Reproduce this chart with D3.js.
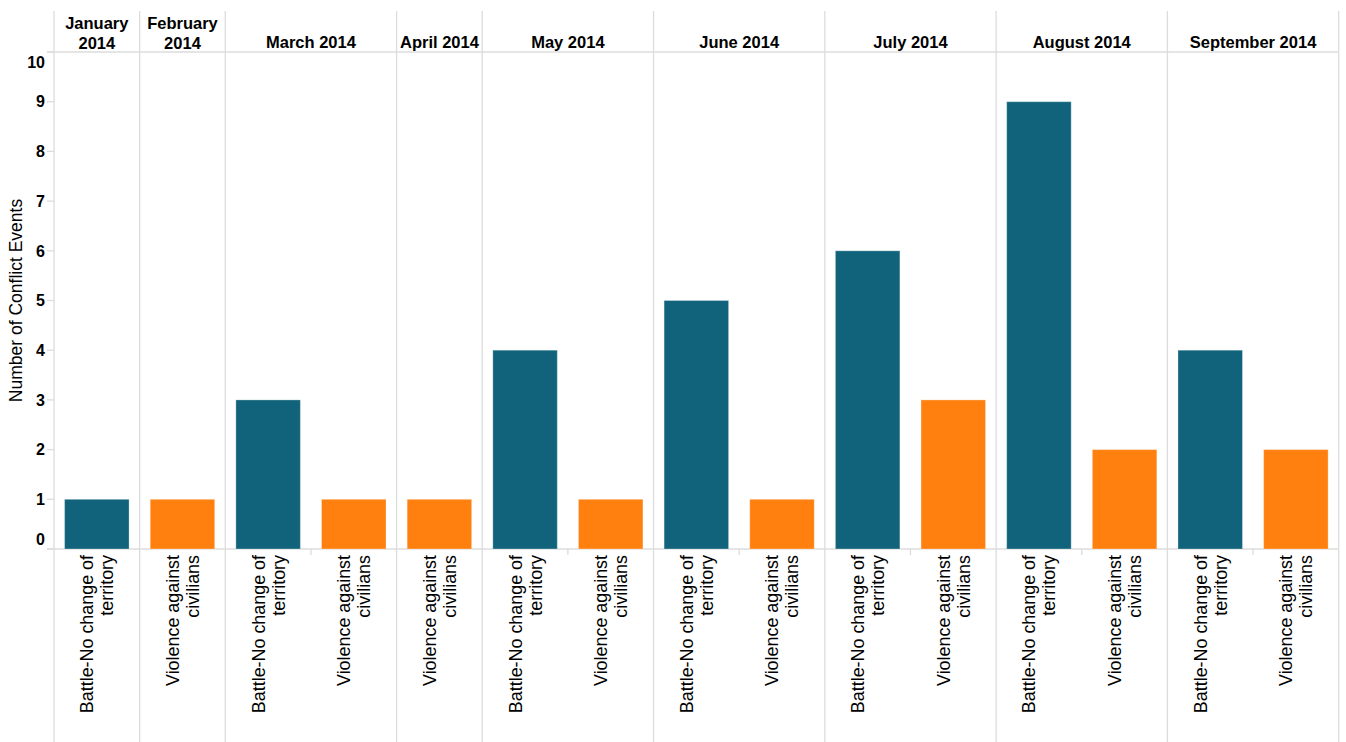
<!DOCTYPE html>
<html>
<head>
<meta charset="utf-8">
<script src="https://cdn.jsdelivr.net/npm/d3@7"></script>
<style>
  body { margin: 0; background: #fff; }
  text { font-family: "Liberation Sans", Arial, sans-serif; fill: #000; }
</style>
</head>
<body>
<script>
// values (number of conflict events per month and type)
const months = ["January 2014", "February 2014", "March 2014", "April 2014", "May 2014",
  "June 2014", "July 2014", "August 2014", "September 2014"];
const eventTypes = ["Battle-No change of territory", "Violence against civilians"];
const battleCounts = [1, null, 3, null, 4, 5, 6, 9, 4];
const violenceCounts = [null, 1, 1, 1, 1, 1, 3, 2, 2];
const yTicks = [0, 1, 2, 3, 4, 5, 6, 7, 8, 9, 10];
const typeLabelLines = {
  "Battle-No change of territory": ["Battle-No change of", "territory"],
  "Violence against civilians": ["Violence against", "civilians"]
};
const colors = { "Battle-No change of territory": "#10637a", "Violence against civilians": "#ff800e" };

const W = 1346, H = 742;
const plotLeft = 54, plotRight = 1338.7, plotTop = 52, base = 549, headTop = 11;

// build one row per bar that exists
const rows = [];
months.forEach((m, i) => {
  if (battleCounts[i] != null) rows.push({ month: m, type: eventTypes[0], value: battleCounts[i] });
  if (violenceCounts[i] != null) rows.push({ month: m, type: eventTypes[1], value: violenceCounts[i] });
});
rows.forEach(d => d.key = d.month + "|" + d.type);

const x = d3.scaleBand()
  .domain(rows.map(d => d.key))
  .range([plotLeft, plotRight])
  .paddingInner(0.247)
  .paddingOuter(0.1235);

const y = d3.scaleLinear().domain([0, 10]).range([base, plotTop]);

const svg = d3.select("body").append("svg")
  .attr("width", W).attr("height", H);

const gridColor = "#dcdcdc";

// panels per month
const panels = months.map(m => {
  const keys = rows.filter(d => d.month === m).map(d => d.key);
  const x0 = x(keys[0]) - x.step() * x.paddingInner() / 2;
  return { month: m, x0: x0, x1: x0 + keys.length * x.step(), keys: keys };
});

// vertical panel borders
const borders = [plotLeft].concat(panels.map(p => p.x1));
svg.selectAll(".vline").data(borders).enter().append("line")
  .attr("x1", d => d).attr("x2", d => d)
  .attr("y1", headTop).attr("y2", H)
  .attr("stroke", gridColor).attr("stroke-width", 1.3);

// header line and baseline
[plotTop, base].forEach(yy => {
  svg.append("line")
    .attr("x1", 47).attr("x2", plotRight).attr("y1", yy).attr("y2", yy)
    .attr("stroke", gridColor).attr("stroke-width", 1.3);
});

// small ticks between categories within a panel
panels.forEach(p => {
  p.keys.slice(1).forEach(k => {
    const xx = x(k) - x.step() * x.paddingInner() / 2;
    svg.append("line")
      .attr("x1", xx).attr("x2", xx).attr("y1", base).attr("y2", base + 6)
      .attr("stroke", gridColor).attr("stroke-width", 1.3);
  });
});

// y axis ticks and labels
svg.selectAll(".ytick").data(yTicks).enter().append("line")
  .attr("x1", 47).attr("x2", plotLeft)
  .attr("y1", d => y(d)).attr("y2", d => y(d))
  .attr("stroke", gridColor).attr("stroke-width", 1.3);

svg.selectAll(".ylab").data(yTicks).enter().append("text")
  .attr("x", 45)
  .attr("y", d => y(d) + (d === 0 ? -10 : d === 10 ? 10.5 : 0))
  .attr("dy", "0.36em")
  .attr("text-anchor", "end")
  .style("font-weight", "bold")
  .style("font-size", "16px")
  .text(d => d);

svg.append("text")
  .attr("transform", `translate(22,${(plotTop + base) / 2})rotate(-90)`)
  .attr("text-anchor", "middle")
  .style("font-size", "17.5px")
  .text("Number of Conflict Events");

// bars
svg.selectAll(".bar").data(rows).enter().append("rect")
  .attr("x", d => x(d.key))
  .attr("width", x.bandwidth())
  .attr("y", d => y(d.value))
  .attr("height", d => y(0) - y(d.value))
  .attr("fill", d => colors[d.type])
  .attr("stroke", "rgba(255,255,255,0.3)")
  .attr("stroke-width", 1);

// month headers, wrapped when too wide for the panel
panels.forEach(p => {
  const cx = (p.x0 + p.x1) / 2;
  const t = svg.append("text")
    .attr("x", cx).attr("y", 48)
    .attr("text-anchor", "middle")
    .style("font-weight", "bold")
    .style("font-size", "16.5px")
    .text(p.month);
  if (t.node().getComputedTextLength() > (p.x1 - p.x0) - 6) {
    const parts = p.month.split(" ");
    t.text(null);
    t.append("tspan").attr("x", cx).attr("y", 29).text(parts[0]);
    t.append("tspan").attr("x", cx).attr("y", 49).text(parts[1]);
  }
});

// rotated category labels
rows.forEach(d => {
  const cx = x(d.key) + x.bandwidth() / 2;
  const lines = typeLabelLines[d.type];
  lines.forEach((ln, i) => {
    svg.append("text")
      .attr("transform", `translate(${cx - 3.5 + i * 20},${base + 6})rotate(-90)`)
      .attr("text-anchor", "end")
      .style("font-size", "17.9px")
      .text(ln);
  });
});
</script>
</body>
</html>
